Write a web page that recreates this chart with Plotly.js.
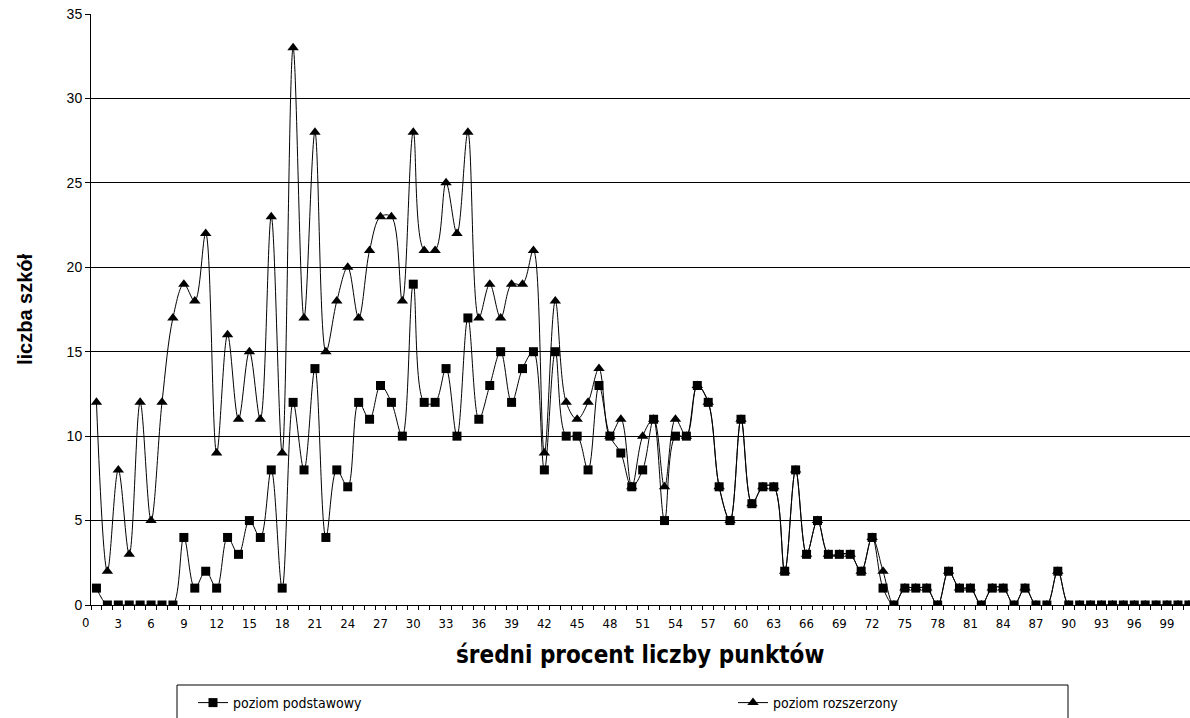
<!DOCTYPE html>
<html><head><meta charset="utf-8">
<script src="https://cdn.plot.ly/plotly-3.0.1.min.js"></script>
<style>html,body{margin:0;padding:0;background:#fff}</style>
</head><body>
<div id="chart" style="width:1190px;height:718px"></div>
<script>
// categories: percent of points (1..101)
const categories = Array.from({length: 101}, (_, i) => i + 1);
const podstawowy = [1,0,0,0,0,0,0,0,4,1,2,1,4,3,5,4,8,1,12,8,14,4,8,7,12,11,13,12,10,19,12,12,14,10,17,11,13,15,12,14,15,8,15,10,10,8,13,10,9,7,8,11,5,10,10,13,12,7,5,11,6,7,7,2,8,3,5,3,3,3,2,4,1,0,1,1,1,0,2,1,1,0,1,1,0,1,0,0,2,0,0,0,0,0,0,0,0,0,0,0,0];
const rozszerzony = [12,2,8,3,12,5,12,17,19,18,22,9,16,11,15,11,23,9,33,17,28,15,18,20,17,21,23,23,18,28,21,21,25,22,28,17,19,17,19,19,21,9,18,12,11,12,14,10,11,7,10,11,7,11,10,13,12,7,5,11,6,7,7,2,8,3,5,3,3,3,2,4,2,0,1,1,1,0,2,1,1,0,1,1,0,1,0,0,2,0,0,0,0,0,0,0,0,0,0,0,0];
const seriesNames = ['poziom podstawowy', 'poziom rozszerzony'];
const xTitle = 'średni procent liczby punktów';
const yTitle = 'liczba szkół';
const firstTickLabel = '0';

const narrow = '"Liberation Sans Narrow", "Arial Narrow", "DejaVu Sans Condensed", sans-serif';
const arial = '"Liberation Sans", Arial, sans-serif';

const L = 91, R = 0, T = 14, B = 113;
const W = 1190, H = 718;
const pw = W - L - R, ph = H - T - B;
const xr = [0.5, 101.1];
const px2paperX = p => (p - L) / pw;
const px2paperY = p => (H - B - p) / ph;

const traces = [
  {x: categories, y: rozszerzony, name: seriesNames[1], type: 'scatter', mode: 'lines+markers',
   line: {color: '#000', width: 1, shape: 'spline', smoothing: 1},
   marker: {symbol: 'triangle-up', size: 10, color: '#000'}, legend: 'legend2', cliponaxis: true},
  {x: categories, y: podstawowy, name: seriesNames[0], type: 'scatter', mode: 'lines+markers',
   line: {color: '#000', width: 1, shape: 'spline', smoothing: 1},
   marker: {symbol: 'square', size: 9, color: '#000'}, legend: 'legend', cliponaxis: true}
];

const legendBase = {orientation: 'h', xref: 'container', yref: 'container', xanchor: 'left', yanchor: 'middle',
  y: 1 - 703 / H, font: {family: narrow, size: 14, color: '#000'}, bgcolor: 'rgba(0,0,0,0)',
  borderwidth: 0, itemclick: false};

const layout = {
  width: W, height: H,
  margin: {l: L, r: R, t: T, b: B, pad: 0, autoexpand: false},
  paper_bgcolor: '#fff', plot_bgcolor: '#fff',
  showlegend: true,
  legend: Object.assign({}, legendBase, {x: 193 / W}),
  legend2: Object.assign({}, legendBase, {x: 733 / W}),
  xaxis: {range: xr, tickmode: 'linear', tick0: 0, dtick: 3, ticks: '', showgrid: false, zeroline: false,
    automargin: false, showline: true, linecolor: '#000', linewidth: 1,
    tickfont: {family: narrow, size: 13, color: '#000'}, ticklabelstandoff: 6,
    minor: {tick0: 0.5, dtick: 1, ticks: 'outside', ticklen: 4, tickcolor: '#000', tickwidth: 1, showgrid: false}},
  yaxis: {range: [0, 35], dtick: 5, tick0: 0, ticks: 'outside', ticklen: 5, tickcolor: '#000',
    automargin: false, showgrid: true, gridcolor: '#000', gridwidth: 1, zeroline: false,
    showline: true, linecolor: '#000', linewidth: 1,
    tickfont: {family: arial, size: 14, color: '#000'},
    title: {text: yTitle, font: {family: arial, size: 20, color: '#000', weight: 'bold'}, standoff: 28}},
  annotations: [
    {xref: 'paper', yref: 'paper', x: px2paperX(L + (0 - xr[0]) * pw / (xr[1] - xr[0])), y: 0,
     xanchor: 'center', yanchor: 'top', yshift: -8, text: firstTickLabel, showarrow: false,
     font: {family: narrow, size: 13, color: '#000'}},
    {xref: 'paper', yref: 'paper', x: px2paperX(640), y: px2paperY(655), xanchor: 'center', yanchor: 'middle',
     text: '<b>' + xTitle + '</b>', showarrow: false,
     font: {family: narrow, size: 24, color: '#000'}}
  ],
  shapes: [
    {type: 'rect', xref: 'paper', yref: 'paper', x0: px2paperX(177), x1: px2paperX(1068),
     y0: px2paperY(685), y1: px2paperY(740), line: {color: '#000', width: 1}, fillcolor: 'rgba(0,0,0,0)', layer: 'below'}
  ]
};

Plotly.newPlot('chart', traces, layout, {staticPlot: true, displayModeBar: false});
</script>
</body></html>
